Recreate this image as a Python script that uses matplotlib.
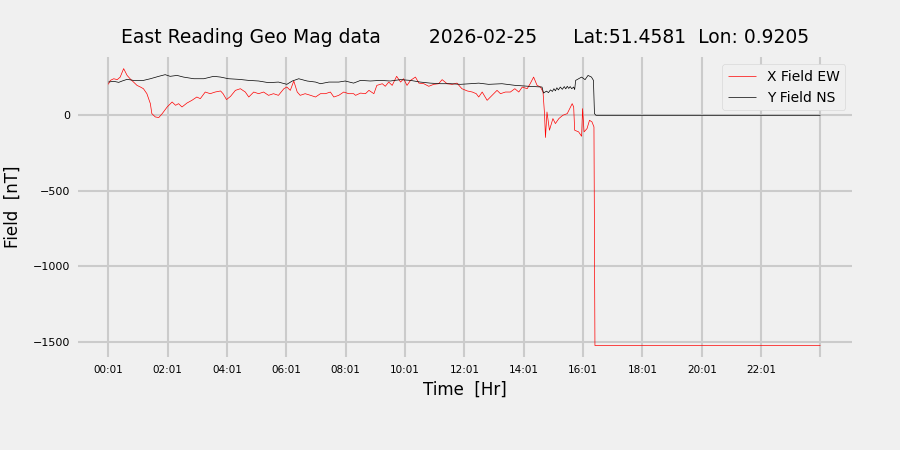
import numpy as np
import matplotlib
matplotlib.use('Agg')
import matplotlib.pyplot as plt

plt.style.use('fivethirtyeight')

title_text = 'East Reading Geo Mag data        2026-02-25      Lat:51.4581  Lon: 0.9205'

# X field (EW), time as HH:MM, value in nT
x_times = ['00:01', '00:05', '00:12', '00:19', '00:25', '00:32', '00:39', '00:45', '00:52', '00:59',
           '01:06', '01:12', '01:19', '01:26', '01:29', '01:36', '01:43', '01:50', '02:00', '02:10',
           '02:17', '02:23', '02:30', '02:40', '02:50', '03:00', '03:07', '03:17', '03:27', '03:37',
           '03:48', '03:53', '04:00', '04:08', '04:18', '04:28', '04:38', '04:45', '04:55', '05:05',
           '05:15', '05:25', '05:35', '05:45', '05:56', '06:02', '06:09', '06:16', '06:23', '06:29',
           '06:39', '06:50', '07:00', '07:10', '07:20', '07:30', '07:37', '07:47', '07:57', '08:07',
           '08:17', '08:21', '08:31', '08:41', '08:48', '08:58', '09:04', '09:15', '09:21', '09:28',
           '09:35', '09:44', '09:52', '09:58', '10:05', '10:12', '10:22', '10:29', '10:39', '10:49',
           '10:59', '11:09', '11:16', '11:26', '11:36', '11:46', '11:56', '12:07', '12:17', '12:25',
           '12:30', '12:37', '12:47', '12:57', '13:07', '13:14', '13:24', '13:34', '13:43', '13:51',
           '13:58', '14:08', '14:14', '14:21', '14:28', '14:35', '14:40', '14:43', '14:45', '14:48',
           '14:53', '15:00', '15:05', '15:12', '15:20', '15:29', '15:39', '15:42', '15:44', '15:52',
           '15:58', '16:00', '16:03', '16:09', '16:14', '16:19', '16:23', '16:25', '24:01']
x_field = [205, 231, 242, 236, 253, 309, 264, 242, 220, 198,
           187, 176, 143, 77, 11, -11, -15, 11, 55, 88,
           66, 77, 55, 81, 99, 121, 110, 154, 143, 154,
           161, 143, 104, 125, 165, 176, 154, 121, 154, 143,
           154, 132, 143, 132, 176, 187, 165, 227, 154, 132,
           143, 132, 121, 143, 143, 154, 121, 132, 154, 143,
           143, 132, 147, 143, 165, 143, 198, 209, 192, 220,
           198, 258, 220, 242, 198, 231, 253, 213, 209, 192,
           205, 209, 236, 209, 205, 213, 176, 161, 154, 143,
           121, 154, 99, 132, 165, 143, 154, 154, 176, 154,
           187, 176, 209, 253, 198, 187, 154, 11, -147, 22,
           -99, -22, -55, -22, 0, 11, 77, 55, -99, -110,
           -139, 44, -110, -88, -33, -44, -77, -1525, -1525]

# Y field (NS)
y_times = ['00:01', '00:12', '00:22', '00:29', '00:39', '00:52', '01:12', '01:26', '01:43', '01:56',
           '02:06', '02:20', '02:33', '02:54', '03:14', '03:34', '03:48', '04:04', '04:25', '04:45',
           '05:05', '05:25', '05:45', '06:02', '06:13', '06:26', '06:43', '07:00', '07:10', '07:27',
           '07:47', '08:00', '08:17', '08:31', '08:51', '09:11', '09:31', '09:52', '10:12', '10:32',
           '10:52', '11:13', '11:33', '11:53', '12:13', '12:30', '12:50', '13:17', '13:44', '14:11',
           '14:38', '14:41', '14:47', '14:51', '14:55', '14:59', '15:02', '15:05', '15:08', '15:11',
           '15:15', '15:19', '15:23', '15:26', '15:29', '15:32', '15:35', '15:38', '15:42', '15:44',
           '15:46', '15:58', '16:05', '16:11', '16:18', '16:22', '16:24', '16:27', '24:01']
y_field = [220, 225, 218, 227, 238, 231, 231, 242, 258, 269,
           258, 264, 253, 242, 242, 258, 253, 242, 238, 231,
           227, 216, 220, 205, 227, 242, 227, 220, 209, 220,
           220, 227, 213, 231, 227, 231, 227, 236, 231, 220,
           213, 209, 209, 205, 209, 213, 205, 209, 198, 192,
           187, 147, 160, 150, 168, 158, 176, 162, 182, 168,
           187, 172, 190, 175, 192, 178, 190, 176, 187, 170,
           231, 253, 236, 264, 253, 231, 11, 0, 0]


def to_hours(times):
    return np.array([int(t[:2]) + int(t[3:]) / 60.0 for t in times])


fig = plt.figure(figsize=(9, 4.5), dpi=100, facecolor='#f0f0f0')
ax = fig.add_axes([0.087, 0.207, 0.86, 0.666])
ax.set_facecolor('#f0f0f0')

ax.plot(to_hours(x_times), x_field, color='r', linewidth=0.5, label='X Field EW')
ax.plot(to_hours(y_times), y_field, color='k', linewidth=0.5, label='Y Field NS')

tick_pos = [2 * k + 1 / 60.0 for k in range(13)]
tick_lab = ['%02d:01' % (2 * k) for k in range(12)] + ['']
ax.set_xticks(tick_pos)
ax.set_xticklabels(tick_lab, fontsize=7.5)
ax.set_xlim(-0.995, 25.09)
ax.set_yticks([0, -500, -1000, -1500])
ax.set_yticklabels(['0', '\u2212500', '\u22121000', '\u22121500'], fontsize=8)
ax.set_ylim(-1600, 385)

ax.set_title(title_text, fontsize=13.5, pad=10)
ax.set_xlabel('Time  [Hr]', fontsize=12)
ax.set_ylabel('Field  [nT]', fontsize=12, labelpad=8)
ax.grid(True, color='#cbcbcb', linewidth=1.5)
ax.tick_params(axis='both', length=0, pad=6)
for s in ax.spines.values():
    s.set_visible(False)

leg = ax.legend(loc='upper right', fontsize=10, facecolor='#f0f0f0', framealpha=1)
leg.get_frame().set_edgecolor('#d8d8d8')

fig.savefig('out.png', dpi=100, facecolor='#f0f0f0')
